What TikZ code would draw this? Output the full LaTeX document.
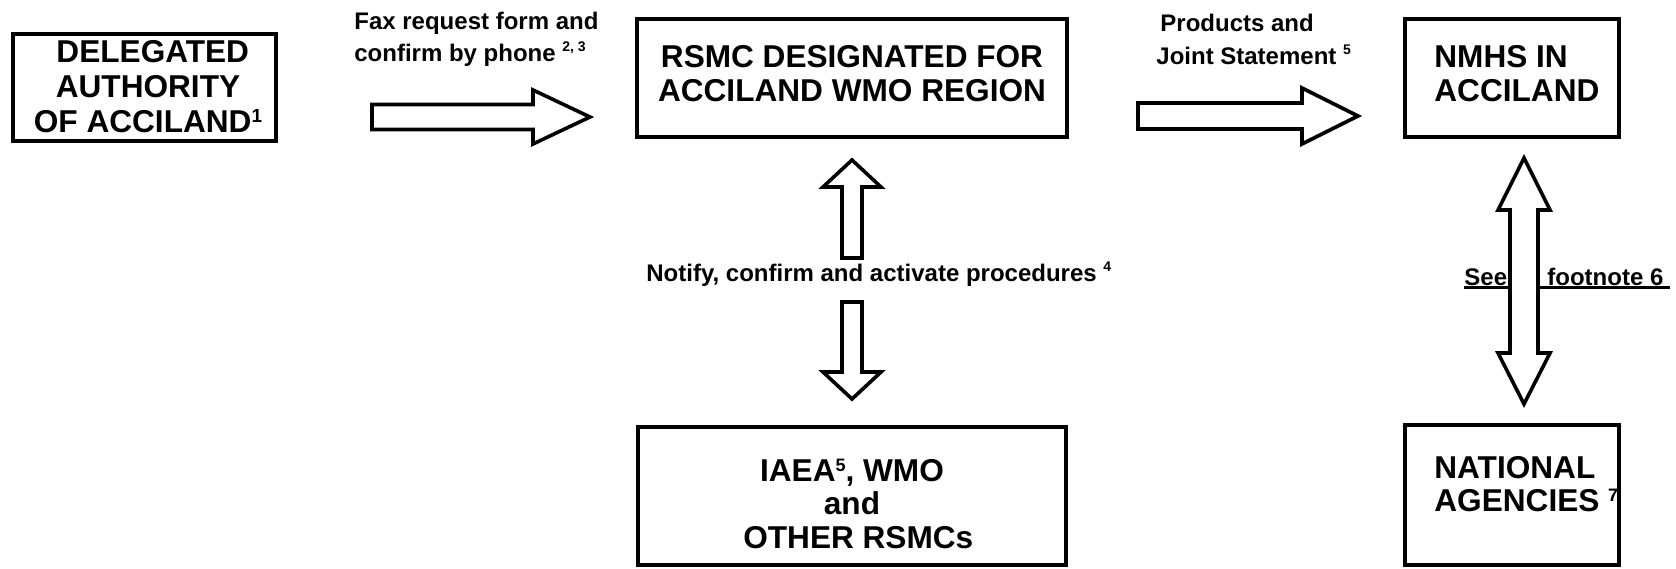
\documentclass[tikz,border=0pt]{standalone}
\usepackage{fontspec}
\setmainfont{Liberation Sans}
\newcommand\upn[3][7]{\raisebox{#2}{\fontsize{#1}{#1}\selectfont #3}}
\begin{document}
\begin{tikzpicture}[x=0.5pt,y=-0.5pt,
  box/.style={draw, line width=2pt, inner sep=0pt},
  boxfont/.style={font=\fontsize{15.8}{17.5}\selectfont\bfseries, inner sep=0pt},
  lab/.style={font=\fontsize{12}{16}\selectfont\bfseries, inner sep=0pt},
  blockarrow/.style={draw, fill=white, line width=1.8pt, line join=miter}]
\useasboundingbox (0,0) rectangle (1676,568);

% boxes
\node[box, minimum width=131.5pt, minimum height=53.5pt] (b1) at (144.5,87.5) {};
\node[box, minimum width=215pt, minimum height=59pt] (b2) at (852,78) {};
\node[box, minimum width=107pt, minimum height=59pt] (b3) at (1512,78) {};
\node[box, minimum width=214pt, minimum height=69pt] (b4) at (852,496) {};
\node[box, minimum width=107pt, minimum height=70pt] (b5) at (1512,495) {};

% box texts (anchor = baseline of last line)
\node[boxfont, anchor=base, align=center] (t1) at (148,132)
  {\hspace*{0.3em}DELEGATED\\AUTHORITY\\OF ACCILAND\upn[9.5]{5pt}{1}};
\node[boxfont, anchor=base, align=center, font=\fontsize{15.8}{17}\selectfont\bfseries] (t2) at (852,101)
  {RSMC DESIGNATED FOR\\ACCILAND WMO REGION};
\node[boxfont, anchor=base west, align=left, font=\fontsize{15.8}{17}\selectfont\bfseries] (t3) at (1434,101)
  {NMHS IN\\ACCILAND};
\node[boxfont, anchor=base, align=center, font=\fontsize{15.8}{16.75}\selectfont\bfseries] (t4) at (852,548)
  {IAEA\upn[9]{5pt}{5}, WMO\\and\\\hspace*{0.4em}OTHER RSMCs};
\node[boxfont, anchor=base west, align=left, font=\fontsize{15.8}{16.5}\selectfont\bfseries] (t5) at (1434,511)
  {NATIONAL\\AGENCIES \upn[9]{5pt}{7}};

% labels
\node[lab, anchor=base west, align=left] (l1) at (354,61.5)
  {Fax request form and\\confirm by phone \upn{5pt}{2, 3}};
\node[lab, anchor=base west, align=left, font=\fontsize{12}{16.5}\selectfont\bfseries] (l2) at (1156,64)
  {\hspace*{2pt}Products and\\Joint Statement \upn{5pt}{5}};
\node[lab, anchor=base west] (l3) at (646,281)
  {Notify, confirm and activate procedures \upn{5pt}{4}};
\node[lab, anchor=base west] (l4a) at (1464,285) {See};
\node[lab, anchor=base west] (l4b) at (1547,285) {footnote 6};
\draw[line width=1.3pt] (l4a.base west) ++(0,2.5) coordinate (u1) -- (1670,287.5) coordinate (u2);

% block arrows
\draw[blockarrow] (372,104.5) -- (533,104.5) -- (533,90) -- (590,117) -- (533,144) -- (533,129.5) -- (372,129.5) -- cycle;
\draw[blockarrow] (1138,103) -- (1302,103) -- (1302,88) -- (1358,116) -- (1302,144) -- (1302,129) -- (1138,129) -- cycle;
\draw[blockarrow] (842,258) -- (842,187) -- (823,187) -- (852,160) -- (881,187) -- (862,187) -- (862,258) -- cycle;
\draw[blockarrow] (842,302) -- (842,372) -- (823,372) -- (852,399) -- (881,372) -- (862,372) -- (862,302) -- cycle;
\draw[blockarrow] (1510,210) -- (1498,210) -- (1524,158) -- (1550,210) -- (1538,210) -- (1538,353) -- (1550,353) -- (1524,404) -- (1498,353) -- (1510,353) -- cycle;
\end{tikzpicture}
\end{document}
